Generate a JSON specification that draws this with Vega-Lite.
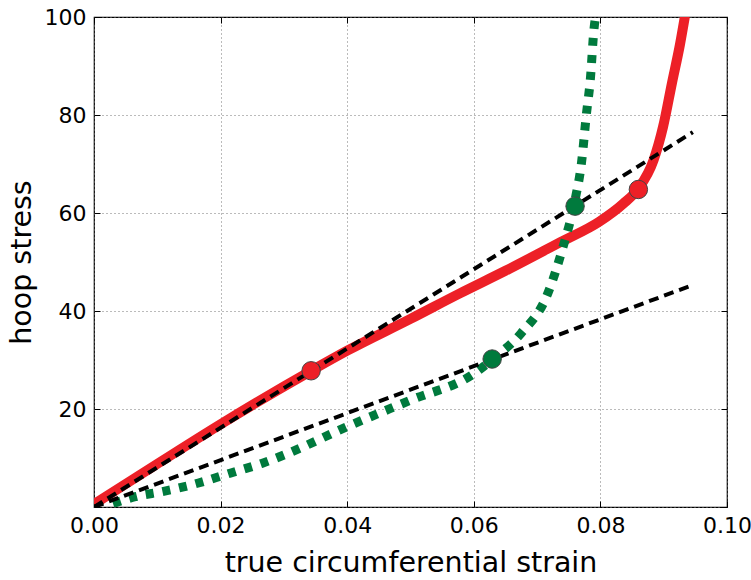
{
  "$schema": "https://vega.github.io/schema/vega-lite/v6.json",
  "width": 633,
  "height": 490,
  "autosize": {"type": "none"},
  "padding": {"left": 94, "top": 17, "right": 24, "bottom": 73},
  "background": "white",
  "config": {
    "view": {"stroke": "black", "strokeWidth": 1.2},
    "font": "DejaVu Sans",
    "axis": {
      "labelFont": "DejaVu Sans",
      "titleFont": "DejaVu Sans",
      "labelFontSize": 22,
      "titleFontSize": 28.5,
      "titleFontWeight": "normal",
      "labelColor": "black",
      "titleColor": "black",
      "domain": false,
      "tickColor": "black",
      "tickSize": -6,
      "gridColor": "#777",
      "gridDash": [1, 3],
      "gridWidth": 1
    }
  },
  "datasets": {
    "curves": [
      {"series": "red", "strain": 0.0, "stress": 0.6},
      {"series": "red", "strain": 0.01, "stress": 8.8},
      {"series": "red", "strain": 0.02, "stress": 16.9},
      {"series": "red", "strain": 0.0343, "stress": 27.8},
      {"series": "red", "strain": 0.04, "stress": 31.9},
      {"series": "red", "strain": 0.05, "stress": 38.4},
      {"series": "red", "strain": 0.0578, "stress": 43.6},
      {"series": "red", "strain": 0.065, "stress": 48.2},
      {"series": "red", "strain": 0.0736, "stress": 54.0},
      {"series": "red", "strain": 0.0799, "stress": 58.3},
      {"series": "red", "strain": 0.0836, "stress": 61.9},
      {"series": "red", "strain": 0.086, "stress": 65.0},
      {"series": "red", "strain": 0.0884, "stress": 70.8},
      {"series": "red", "strain": 0.0899, "stress": 77.6},
      {"series": "red", "strain": 0.0913, "stress": 86.5},
      {"series": "red", "strain": 0.0926, "stress": 94.6},
      {"series": "red", "strain": 0.0934, "stress": 100.5},
      {"series": "green", "strain": 0.003, "stress": 0.7},
      {"series": "green", "strain": 0.0065, "stress": 2.1},
      {"series": "green", "strain": 0.011, "stress": 3.2},
      {"series": "green", "strain": 0.0165, "stress": 4.9},
      {"series": "green", "strain": 0.0215, "stress": 6.9},
      {"series": "green", "strain": 0.0265, "stress": 8.9},
      {"series": "green", "strain": 0.03, "stress": 10.6},
      {"series": "green", "strain": 0.04, "stress": 16.4},
      {"series": "green", "strain": 0.05, "stress": 21.8},
      {"series": "green", "strain": 0.06, "stress": 27.2},
      {"series": "green", "strain": 0.063, "stress": 30.2},
      {"series": "green", "strain": 0.0675, "stress": 35.5},
      {"series": "green", "strain": 0.0715, "stress": 43.0},
      {"series": "green", "strain": 0.0741, "stress": 53.1},
      {"series": "green", "strain": 0.076, "stress": 62.7},
      {"series": "green", "strain": 0.077, "stress": 70.1},
      {"series": "green", "strain": 0.0778, "stress": 80.3},
      {"series": "green", "strain": 0.0784, "stress": 87.1},
      {"series": "green", "strain": 0.079, "stress": 97.7},
      {"series": "green", "strain": 0.0793, "stress": 100.5},
      {"series": "upper", "strain": 0.0, "stress": 0.0},
      {"series": "upper", "strain": 0.0946, "stress": 76.5},
      {"series": "lower", "strain": 0.0, "stress": 0.0},
      {"series": "lower", "strain": 0.0946, "stress": 45.3}
    ],
    "markers": [
      {"series": "red", "strain": 0.0343, "stress": 27.8},
      {"series": "red", "strain": 0.086, "stress": 64.8},
      {"series": "green", "strain": 0.0629, "stress": 30.2},
      {"series": "green", "strain": 0.076, "stress": 61.4}
    ]
  },
  "data": {"name": "curves"},
  "resolve": {"axis": {"x": "independent", "y": "independent"}},
  "layer": [
    {
      "encoding": {
        "x": {
          "field": "strain",
          "type": "quantitative",
          "scale": {"domain": [0, 0.1], "nice": false, "zero": false},
          "axis": {
            "title": "true circumferential strain",
            "values": [0, 0.02, 0.04, 0.06, 0.08, 0.1],
            "format": ".2f",
            "labelPadding": 14,
            "labelFlush": false,
            "labelOverlap": false,
            "labelBound": false,
            "titlePadding": 12
          }
        },
        "y": {
          "field": "stress",
          "type": "quantitative",
          "scale": {"domain": [0, 100], "nice": false},
          "axis": {
            "title": "hoop stress",
            "values": [0, 20, 40, 60, 80, 100],
            "labelExpr": "datum.value == 0 ? '' : datum.label",
            "labelPadding": 14,
            "labelFlush": false,
            "labelOverlap": false,
            "titlePadding": 8
          }
        }
      },
      "layer": [
        {
          "transform": [{"filter": "datum.series == 'red'"}],
          "mark": {"type": "line", "color": "#ed2027", "strokeWidth": 10, "clip": true, "strokeCap": "butt", "interpolate": "monotone"}
        },
        {
          "transform": [{"filter": "datum.series == 'green'"}],
          "mark": {"type": "line", "color": "#007a3d", "strokeWidth": 9, "strokeDash": [8, 9], "clip": true, "strokeCap": "butt", "interpolate": "monotone"}
        },
        {
          "transform": [{"filter": "datum.series == 'upper' || datum.series == 'lower'"}],
          "mark": {"type": "line", "color": "black", "strokeWidth": 4, "strokeDash": [10, 6], "clip": true},
          "encoding": {"detail": {"field": "series"}}
        },
        {
          "data": {"name": "markers"},
          "mark": {"type": "point", "filled": true, "size": 340, "stroke": "#444", "strokeWidth": 1, "opacity": 1},
          "encoding": {
            "color": {
              "field": "series",
              "type": "nominal",
              "scale": {"domain": ["red", "green"], "range": ["#ed2027", "#007a3d"]},
              "legend": null
            }
          }
        }
      ]
    },
    {
      "transform": [{"filter": "datum.series == 'upper'"}],
      "mark": {"type": "point", "opacity": 0},
      "encoding": {
        "x": {
          "field": "strain",
          "type": "quantitative",
          "axis": {"orient": "top", "values": [0, 0.02, 0.04, 0.06, 0.08, 0.1], "labels": false, "title": null, "grid": false}
        },
        "y": {
          "field": "stress",
          "type": "quantitative",
          "axis": {"orient": "right", "values": [0, 20, 40, 60, 80, 100], "labels": false, "title": null, "grid": false}
        }
      }
    }
  ]
}
